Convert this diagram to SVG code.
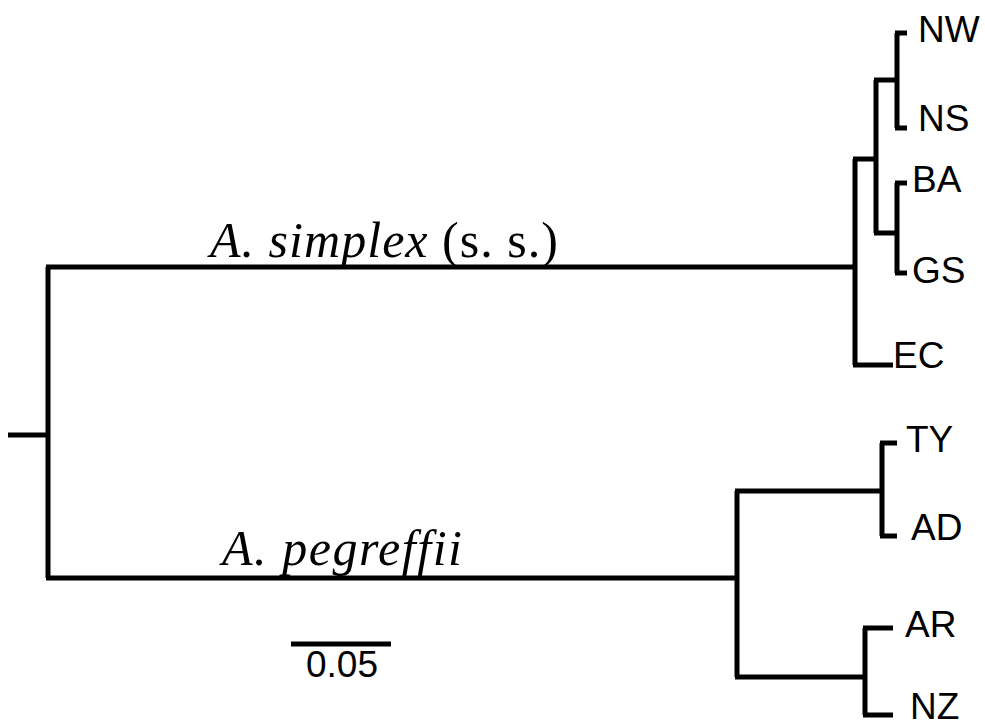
<svg xmlns="http://www.w3.org/2000/svg" width="985" height="726" viewBox="0 0 985 726">
<style>
.br{fill:none;stroke:#000;stroke-width:5;stroke-linecap:butt;stroke-linejoin:miter}
.lab{font-family:"Liberation Sans",Arial,sans-serif;font-size:37px;fill:#000}
.sp{font-family:"Liberation Serif","Times New Roman",serif;font-size:50px;fill:#000}
</style>
<rect width="985" height="726" fill="#fff"/>
<g id="connectors">
<path class="br" d="M8,435 H48"/>
<path class="br" d="M48,267 V578"/>
<path class="br" d="M46,267 H855"/>
<path class="br" d="M46,578 H737"/>
<path class="br" d="M855,159 V365 M853,159 H876 M853,365 H893"/>
<path class="br" d="M876,80 V233 M874,80 H897 M874,233 H897"/>
<path class="br" d="M897,33 V128 M895,33 H907 M895,128 H907"/>
<path class="br" d="M897,183 V273 M895,183 H907 M895,273 H907"/>
<path class="br" d="M737,491 V677 M735,491 H882 M735,677 H865"/>
<path class="br" d="M882,443 V536 M880,443 H897 M880,536 H897"/>
<path class="br" d="M865,628 V715 M863,628 H893 M863,715 H893"/>
<path class="br" d="M291,644 H391"/>
</g>
<g id="NW"><text class="lab" x="918" y="42">NW</text></g>
<g id="NS"><text class="lab" x="918" y="131">NS</text></g>
<g id="BA"><text class="lab" x="912" y="192">BA</text></g>
<g id="GS"><text class="lab" x="912" y="283">GS</text></g>
<g id="EC"><text class="lab" x="893" y="368">EC</text></g>
<g id="TY"><text class="lab" x="906" y="452">TY</text></g>
<g id="AD"><text class="lab" x="911" y="540">AD</text></g>
<g id="AR"><text class="lab" x="905" y="637">AR</text></g>
<g id="NZ"><text class="lab" x="910" y="719">NZ</text></g>
<g id="simplex"><text class="sp" x="210" y="257" textLength="348" lengthAdjust="spacing"><tspan font-style="italic">A. simplex</tspan> (s. s.)</text></g>
<g id="pegreffii"><text class="sp" x="222" y="565" font-style="italic" textLength="240" lengthAdjust="spacing">A. pegreffii</text></g>
<g id="scale"><text class="lab" x="306" y="677" font-size="30">0.05</text></g>
</svg>
